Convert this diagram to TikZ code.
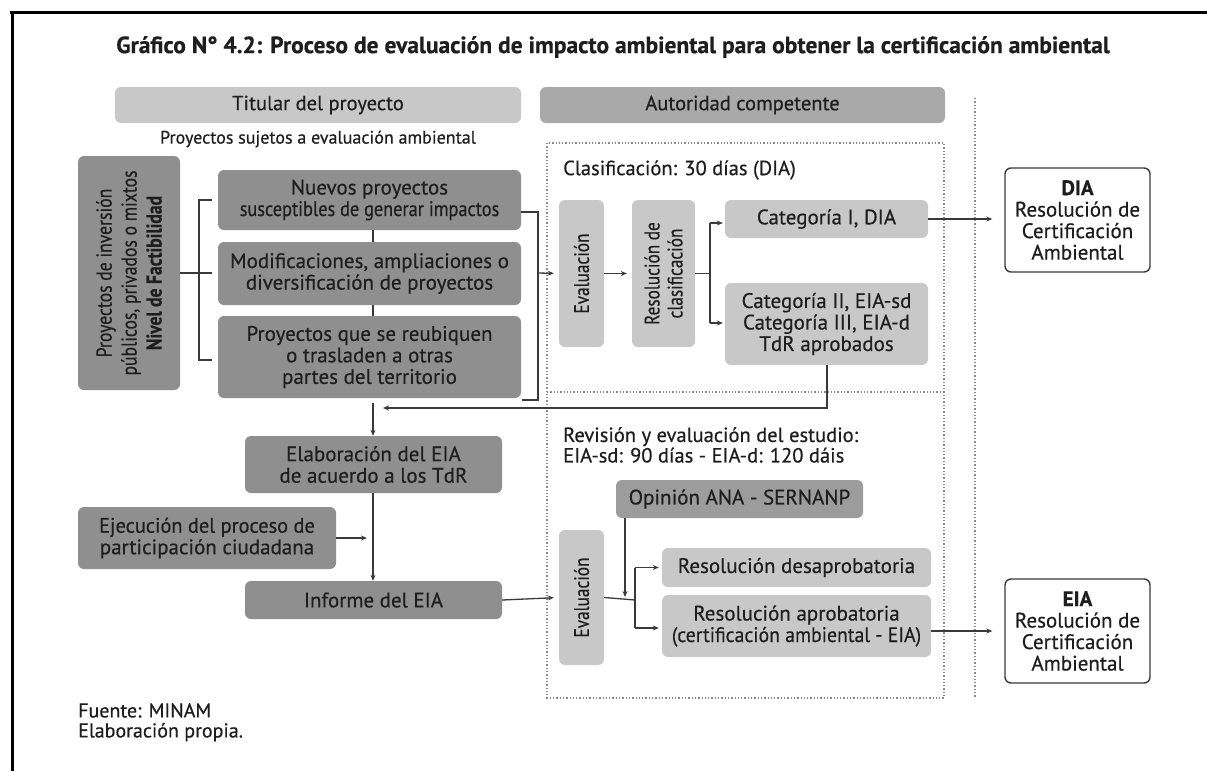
\documentclass[tikz,border=0pt]{standalone}
\usepackage{fontspec}
\usepackage{graphicx}
\setmainfont{PT Sans}[FakeBold=0.5]
\newfontfamily\cnd{PT Sans}[FakeStretch=0.82, FakeBold=0.5]
\newcommand{\hsc}[2]{\scalebox{#1}[1]{#2}}
\usetikzlibrary{arrows.meta}
\definecolor{cLight}{HTML}{C8C8C8}
\definecolor{cMid}{HTML}{A9A9A9}
\definecolor{cDark}{HTML}{8F8F8F}
\definecolor{cOpin}{HTML}{9C9C9C}
\definecolor{cLine}{HTML}{3A3A3A}
\definecolor{cDot}{HTML}{8A8A8A}
\definecolor{cText}{HTML}{1E1E1E}
\begin{document}
\begin{tikzpicture}[x=1pt,y=-1pt,
 box/.style={rounded corners=6pt, align=center, inner sep=0pt, text=cText, font=\fontsize{21}{21.5}\selectfont},
 rbox/.style={box, rotate=90, font=\cnd\fontsize{21}{23}\selectfont},
 dk/.style={box, fill=cDark},
 lt/.style={box, fill=cLight},
 md/.style={box, fill=cMid},
 wb/.style={box, draw=cLine, line width=1.4pt, fill=white},
 lbl/.style={inner sep=0pt, text=cText, align=left, font=\fontsize{20.5}{20.5}\selectfont},
 ln/.style={draw=cLine, line width=1.3pt},
 ar/.style={ln, -{Stealth[length=6pt,width=5pt]}},
 dt/.style={draw=cDot, line width=1.3pt, dotted},
 frame/.style={draw=black, line width=3pt}
]
\useasboundingbox (0,0) rectangle (1207,771);
\fill[white] (0,0) rectangle (1207,771);
% outer frame
\coordinate (fa) at (10,12);
\coordinate (fb) at (1207,12);
\coordinate (fc) at (12,12);
\coordinate (fd) at (12,771);
\draw[frame] (fa) -- (fb);
\draw[frame] (fc) -- (fd);

% title
\node[inner sep=0pt, text=cText, font=\bfseries\fontsize{23.5}{24}\selectfont] (title) at (613,47)
 {Gráfico N° 4.2: Proceso de evaluación de impacto ambiental para obtener la certificación ambiental};

% headers
\node[lt, minimum width=406pt, minimum height=36pt, font=\fontsize{20.5}{21}\selectfont] (titular) at (318,105) {Titular del proyecto};
\node[md, minimum width=405pt, minimum height=36pt, font=\fontsize{20.5}{21}\selectfont] (autoridad) at (742.5,105) {Autoridad competente};
\node[lbl, font=\fontsize{18}{18}\selectfont] (sujetos) at (318,139) {Proyectos sujetos a evaluación ambiental};

% dotted frames
\coordinate (d1) at (547,143);
\coordinate (d2) at (944,698);
\coordinate (d3) at (547,392);
\coordinate (d4) at (944,392);
\coordinate (v1) at (975,98);
\coordinate (v2) at (975,698);
\draw[dt] (d1) rectangle (d2);
\draw[dt] (d3) -- (d4);
\draw[dt] (v1) -- (v2);

% left column
\node[dk, rbox, font=\cnd\fontsize{21.5}{25}\selectfont, minimum width=234pt, minimum height=102pt] (left) at (129,273)
 {Proyectos de inversión\\públicos, privados o mixtos\\\textbf{Nivel de Factibilidad}};
\node[dk, minimum width=303pt, minimum height=60pt] (nuevos) at (369.5,200)
 {Nuevos proyectos\\\hsc{0.87}{susceptibles de generar impactos}};
\node[dk, minimum width=303pt, minimum height=63pt] (modif) at (369.5,273.5)
 {Modificaciones, ampliaciones o\\diversificación de proyectos};
\node[dk, minimum width=303pt, minimum height=82pt] (reub) at (369.5,357)
 {Proyectos que se reubiquen\\o trasladen a otras\\partes del territorio};

\node[dk, minimum width=257pt, minimum height=57pt] (elab) at (373.5,464.5)
 {Elaboración del EIA\\de acuerdo a los TdR};
\node[dk, minimum width=258pt, minimum height=62pt] (ejec) at (207,538)
 {\hsc{0.97}{Ejecución del proceso de}\\participación ciudadana};
\node[dk, minimum width=257pt, minimum height=38pt] (informe) at (373.5,600)
 {Informe del EIA};

\node[lbl, anchor=north west, font=\fontsize{20}{20}\selectfont] (fuente) at (78,703) {Fuente: MINAM\\Elaboración propia.};

% classification part
\node[lbl, anchor=west] (clasif) at (563,170) {Clasificación: 30 días (DIA)};
\node[lt, rbox, minimum width=147pt, minimum height=45pt] (eval1) at (581.5,273.5) {Evaluación};
\node[lt, rbox, minimum width=147pt, minimum height=63pt] (rescl) at (663.5,273.5) {Resolución de\\clasificación};
\node[lt, minimum width=203pt, minimum height=38pt] (cat1) at (826.5,219) {Categoría I, DIA};
\node[lt, minimum width=203pt, minimum height=82pt] (cat2) at (826.5,324)
 {Categoría II, EIA-sd\\Categoría III, EIA-d\\TdR aprobados};
\node[wb, minimum width=145pt, minimum height=104pt] (dia) at (1077.5,220)
 {\textbf{DIA}\\Resolución de\\Certificación\\Ambiental};

% review part
\node[lbl, anchor=north west] (revision) at (563,427)
 {Revisión y evaluación del estudio:\\EIA-sd: 90 días - EIA-d: 120 dáis};
\node[box, fill=cOpin, minimum width=247pt, minimum height=38pt] (opinion) at (739.5,499) {Opinión ANA - SERNANP};
\node[lt, rbox, minimum width=135pt, minimum height=45pt] (eval2) at (581.5,597.5) {Evaluación};
\node[lt, minimum width=269pt, minimum height=39pt] (desap) at (796.5,567.5) {Resolución desaprobatoria};
\node[lt, minimum width=269pt, minimum height=62pt] (aprob) at (796.5,626) {Resolución aprobatoria\\\hsc{0.94}{(certificación ambiental - EIA)}};
\node[wb, minimum width=145pt, minimum height=104pt] (eia) at (1077.5,631)
 {\textbf{EIA}\\Resolución de\\Certificación\\Ambiental};

% ---- connectors ----
% left bracket
\coordinate (lbT) at (212,200);
\coordinate (lbB) at (212,360);
\coordinate (lbM) at (212,273);
\draw[ln] (lbT) -- (199,200) -- (199,360) -- (lbB);
\draw[ln] (left.south) -- (lbM);
\draw[ln] (nuevos.south -| 373,0) -- (modif.north -| 373,0);
\draw[ln] (modif.south -| 373,0) -- (reub.north -| 373,0);
% right bracket
\coordinate (rbT) at (538,212);
\coordinate (rbB) at (538,400);
\coordinate (rbM) at (538,273);
\draw[ln] (nuevos.east |- rbT) -- (rbT) -- (rbB) -- (522,400);
\draw[ar, shorten >=5pt] (rbM) -- (eval1.north);
\draw[ar, shorten >=5pt] (eval1.south) -- (rescl.north);
% classification branch
\coordinate (bx) at (710,273.5);
\coordinate (bxT) at (710,223);
\coordinate (bxB) at (710,323);
\draw[ln] (rescl.south) -- (bx);
\draw[ln] (bxT) -- (bxB);
\draw[ar, shorten >=2pt] (bxT) -- (cat1.west |- bxT);
\draw[ar, shorten >=2pt] (bxB) -- (cat2.west |- bxB);
\draw[ar, shorten >=12pt] (cat1.east) -- (dia.west |- cat1.east);
% return line
\coordinate (retA) at (827,408);
\coordinate (retB) at (383,408);
\draw[ar] (cat2.south -| retA) -- (retA) -- (retB);
\coordinate (downA) at (373,403);
\draw[ar] (downA) -- (elab.north -| downA);
\draw[ar] (elab.south -| downA) -- (informe.north -| downA);
\coordinate (ejT) at (367,538);
\draw[ar] (ejec.east) -- (ejT);
\draw[ar, shorten >=5pt] (informe.east) -- (eval2.north);
% review branch
\coordinate (rx) at (635,600);
\coordinate (rxT) at (635,567.5);
\coordinate (rxB) at (635,628);
\draw[ln] (eval2.south) -- (rx);
\draw[ln] (rxT) -- (rxB);
\draw[ar, shorten >=3pt] (rxT) -- (desap.west |- rxT);
\draw[ar, shorten >=3pt] (rxB) -- (aprob.west |- rxB);
\coordinate (opB) at (625,597);
\draw[ar] (opinion.south -| opB) -- (opB);
\draw[ar, shorten >=12pt] (aprob.east |- 0,631) -- (eia.west |- 0,631);
\end{tikzpicture}
\end{document}
